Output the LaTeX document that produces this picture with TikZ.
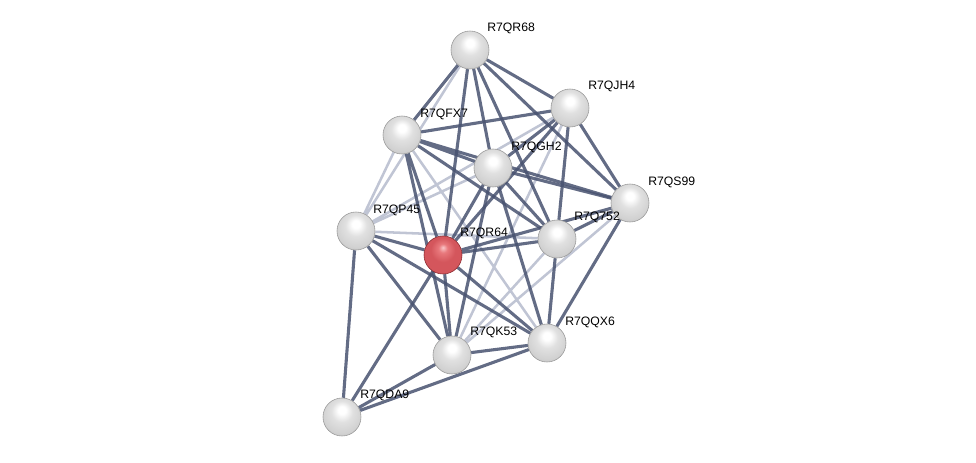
\documentclass[tikz,border=0pt]{standalone}
\usepackage{fontspec}
\setmainfont{Liberation Sans}
\definecolor{edgedark}{RGB}{72,82,112}
\definecolor{edgelight}{RGB}{150,158,184}
\definecolor{redA}{RGB}{250,200,202}
\definecolor{redB}{RGB}{232,120,124}
\definecolor{redC}{RGB}{212,86,92}
\definecolor{redD}{RGB}{170,50,58}
\pgfdeclareradialshading{graysphere}{\pgfpoint{0bp}{10bp}}{color(0bp)=(white); color(5bp)=(white); color(14bp)=(black!12); color(26bp)=(black!18); color(34bp)=(black!26); color(42bp)=(black!40); color(50bp)=(black!45)}
\pgfdeclareradialshading{redsphere}{\pgfpoint{0bp}{10bp}}{color(0bp)=(redA); color(6bp)=(redB); color(16bp)=(redC); color(32bp)=(redC); color(42bp)=(redD); color(50bp)=(redD)}
\pgfdeclarelayer{edges}
\pgfsetlayers{edges,main}
\begin{document}
\begin{tikzpicture}[x=0.025cm,y=-0.025cm,
  protein/.style={circle,draw=black!40,line width=0.4pt,minimum size=0.95cm,inner sep=0pt,shading=graysphere},
  query/.style={protein,shading=redsphere,draw=redD!80!black},
  lbl/.style={anchor=west,inner sep=0pt,font=\fontsize{8.7}{10}\selectfont},
  edge/.style={draw=edgedark,line width=2.2pt,opacity=0.85},
  weakedge/.style={draw=edgelight,line width=1.8pt,opacity=0.6}]
  \useasboundingbox (0,0) rectangle (976,462);
  % proteins
  \node[protein] (R68) at (470,50) {};
  \node[protein] (JH4) at (570,108) {};
  \node[protein] (FX7) at (402,135) {};
  \node[protein] (GH2) at (493,168) {};
  \node[protein] (S99) at (630,203) {};
  \node[protein] (P45) at (356,231) {};
  \node[protein] (Q752) at (557,239) {};
  \node[query] (R64) at (443,255) {};
  \node[protein] (QX6) at (547,343) {};
  \node[protein] (K53) at (452,355) {};
  \node[protein] (DA9) at (342,417) {};
  % labels
  \node[lbl] (R68l) at ([shift={(17,-22)}]R68) {R7QR68};
  \node[lbl] (JH4l) at ([shift={(18,-22)}]JH4) {R7QJH4};
  \node[lbl] (FX7l) at ([shift={(18,-21)}]FX7) {R7QFX7};
  \node[lbl] (GH2l) at ([shift={(18,-21)}]GH2) {R7QGH2};
  \node[lbl] (S99l) at ([shift={(18,-21)}]S99) {R7QS99};
  \node[lbl] (P45l) at ([shift={(17,-21)}]P45) {R7QP45};
  \node[lbl] (Q752l) at ([shift={(17,-22)}]Q752) {R7Q752};
  \node[lbl] (R64l) at ([shift={(17,-22)}]R64) {R7QR64};
  \node[lbl] (QX6l) at ([shift={(18,-21)}]QX6) {R7QQX6};
  \node[lbl] (K53l) at ([shift={(18,-23)}]K53) {R7QK53};
  \node[lbl] (DA9l) at ([shift={(18,-22)}]DA9) {R7QDA9};
  % interactions
  \begin{pgfonlayer}{edges}
    \draw[weakedge] (R68) -- (P45) (JH4) -- (P45) (JH4) -- (K53) (FX7) -- (P45) (FX7) -- (QX6)
      (GH2) -- (P45) (P45) -- (Q752) (Q752) -- (K53) (S99) -- (K53);
    \draw[edge] (R68) -- (FX7) (R68) -- (R64) (R68) -- (GH2) (R68) -- (Q752) (R68) -- (S99) (R68) -- (JH4);
    \draw[edge] (JH4) -- (FX7) (JH4) -- (S99) (JH4) -- (Q752) (JH4) -- (GH2) (JH4) -- (R64);
    \draw[edge] (FX7) -- (GH2) (FX7) -- (S99) (FX7) -- (Q752) (FX7) -- (R64) (FX7) -- (K53);
    \draw[edge] (GH2) -- (S99) (GH2) -- (Q752) (GH2) -- (R64) (GH2) -- (K53) (GH2) -- (QX6);
    \draw[edge] (P45) -- (R64) (P45) -- (K53) (P45) -- (QX6) (P45) -- (DA9);
    \draw[edge] (R64) -- (Q752) (R64) -- (S99) (R64) -- (K53) (R64) -- (QX6) (R64) -- (DA9);
    \draw[edge] (Q752) -- (S99) (Q752) -- (QX6) (S99) -- (QX6);
    \draw[edge] (QX6) -- (K53) (QX6) -- (DA9) (K53) -- (DA9);
  \end{pgfonlayer}
\end{tikzpicture}
\end{document}
